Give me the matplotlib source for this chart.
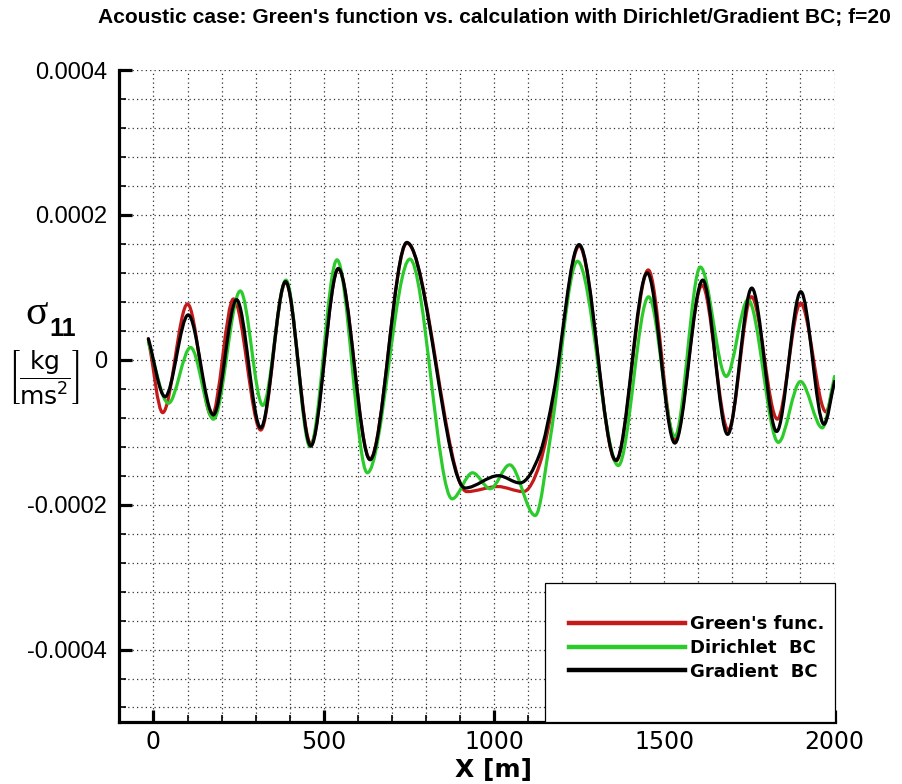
import numpy as np
import matplotlib
matplotlib.use("Agg")
import matplotlib.pyplot as plt
from matplotlib.path import Path
from matplotlib.patches import PathPatch, Rectangle
from matplotlib.lines import Line2D
from matplotlib.ticker import MultipleLocator, FuncFormatter

# values (sigma in units of 1e-4 kg/(m s^2))
x_green = [-15, 27, 100, 171, 235, 315, 388, 462, 543, 636, 744, 920, 1011, 1086,
           1135, 1175, 1250, 1358, 1453, 1531, 1611, 1688, 1756, 1832, 1900, 1975, 2000]
s_green = [0.29, -0.73, 0.77, -0.78, 0.84, -0.97, 1.07, -1.16, 1.26, -1.37, 1.61, -1.82, -1.75, -1.82,
           -1.43, -0.55, 1.57, -1.40, 1.24, -1.11, 1.03, -0.97, 0.87, -0.82, 0.78, -0.72, -0.28]

x_dirichlet = [-15, 44, 109, 176, 255, 321, 389, 460, 539, 628, 753, 877, 937, 989,
               1046, 1121, 1166, 1245, 1365, 1454, 1531, 1606, 1682, 1746, 1835, 1900, 1964, 2000]
s_dirichlet = [0.24, -0.60, 0.17, -0.82, 0.95, -0.63, 1.10, -1.20, 1.38, -1.56, 1.39, -1.92, -1.56, -1.78,
               -1.45, -2.15, -1.06, 1.36, -1.46, 0.87, -1.06, 1.28, -0.23, 0.83, -1.14, -0.30, -0.94, -0.23]

x_gradient = [-15, 34, 102, 176, 244, 315, 388, 462, 543, 636, 744, 915, 1013, 1076,
              1135, 1175, 1250, 1358, 1450, 1531, 1613, 1686, 1757, 1830, 1901, 1969, 2000]
s_gradient = [0.29, -0.51, 0.62, -0.76, 0.83, -0.94, 1.08, -1.19, 1.26, -1.38, 1.62, -1.77, -1.60, -1.70,
              -1.29, -0.46, 1.59, -1.39, 1.20, -1.15, 1.10, -1.03, 0.99, -0.99, 0.94, -0.89, -0.30]

labels = ["Green's func.", "Dirichlet  BC", "Gradient  BC"]
colors = ["#c41a1a", "#2ccb2c", "#000000"]

SANS = ["Liberation Sans", "DejaVu Sans"]


def smooth_path(xs, ys):
    # cubic Bezier through the read points, flat tangent at the peaks
    xs = np.asarray(xs, float)
    ys = np.asarray(ys, float) * 1e-4
    n = len(xs)
    slope = np.zeros(n)
    for i in range(n):
        if i == 0:
            slope[i] = (ys[1] - ys[0]) / (xs[1] - xs[0])
        elif i == n - 1:
            slope[i] = (ys[-1] - ys[-2]) / (xs[-1] - xs[-2])
        elif (ys[i] - ys[i - 1]) * (ys[i + 1] - ys[i]) <= 0:
            slope[i] = 0.0
        else:
            slope[i] = (ys[i + 1] - ys[i - 1]) / (xs[i + 1] - xs[i - 1])
    verts = [(xs[0], ys[0])]
    codes = [Path.MOVETO]
    for i in range(n - 1):
        d = (xs[i + 1] - xs[i]) / 3.0
        verts += [(xs[i] + d, ys[i] + slope[i] * d),
                  (xs[i + 1] - d, ys[i + 1] - slope[i + 1] * d),
                  (xs[i + 1], ys[i + 1])]
        codes += [Path.CURVE4] * 3
    return Path(verts, codes)


fig = plt.figure(figsize=(9.02, 7.84), dpi=100)
ax = fig.add_axes([0.1324, 0.0791, 0.7928, 0.8316])

series = [(x_green, s_green), (x_dirichlet, s_dirichlet), (x_gradient, s_gradient)]
for (xs, ys), c in zip(series, colors):
    ax.add_patch(PathPatch(smooth_path(xs, ys), fill=False, edgecolor=c, lw=2.3,
                           joinstyle="round", capstyle="round", zorder=4))

ax.set_xlim(-100, 2000)
ax.set_ylim(-0.0005, 0.0004)

ax.xaxis.set_major_locator(MultipleLocator(500))
ax.xaxis.set_minor_locator(MultipleLocator(100))
ax.yaxis.set_major_locator(MultipleLocator(0.0002))
ax.yaxis.set_minor_locator(MultipleLocator(0.00004))
ax.yaxis.set_major_formatter(FuncFormatter(lambda v, p: "0" if abs(v) < 1e-12 else f"{v:.4f}"))

ax.grid(which="both", linestyle=(0, (1, 2.5)), color="#333333", linewidth=0.9)
ax.set_axisbelow(True)

for side in ["top", "right"]:
    ax.spines[side].set_visible(False)
for side in ["left", "bottom"]:
    ax.spines[side].set_linewidth(2.3)

ax.tick_params(which="major", direction="in", length=9, width=2.3)
ax.tick_params(which="minor", direction="in", length=5, width=1.2)
ax.tick_params(axis="x", pad=6)
ax.tick_params(axis="y", pad=9)
for t in ax.get_xticklabels():
    t.set_fontsize(17)
for t in ax.get_yticklabels():
    t.set_family(SANS)
    t.set_fontsize(17)

fig.text(0.547, 0.018, "X [m]", ha="center", va="center", fontsize=18, fontweight="bold")

fig.text(0.548, 0.978, "Acoustic case: Green's function vs. calculation with Dirichlet/Gradient BC; f=20",
         ha="center", va="center", family=SANS, fontsize=15.1, fontweight="bold")

# axis label drawn as pieces, like the original
fig.text(0.041, 0.600, "\u03c3", ha="center", va="center", family=["Liberation Serif", "DejaVu Serif"],
         fontsize=30)
fig.text(0.069, 0.580, "11", ha="center", va="center", family=SANS, fontsize=18, fontweight="bold")
fig.text(0.049, 0.518, r"$\left[\dfrac{\mathrm{kg}}{\mathrm{ms}^2}\right]$",
         ha="center", va="center", fontsize=18)

# legend box in lower right
ax.add_patch(Rectangle((0.595, 0.0), 0.405, 0.213, transform=ax.transAxes,
                       facecolor="white", edgecolor="black", lw=0.9, zorder=5, clip_on=False))
handles = [Line2D([], [], color=c, lw=3.2) for c in colors]
leg = ax.legend(handles, labels, loc="upper left", bbox_to_anchor=(0.629, 0.164),
                frameon=False, borderpad=0, borderaxespad=0, handlelength=6.4,
                handletextpad=0.3, labelspacing=0.32,
                prop={"family": "DejaVu Sans", "size": 13, "weight": "bold"})
leg.set_zorder(6)

fig.savefig("out.png", dpi=100)
